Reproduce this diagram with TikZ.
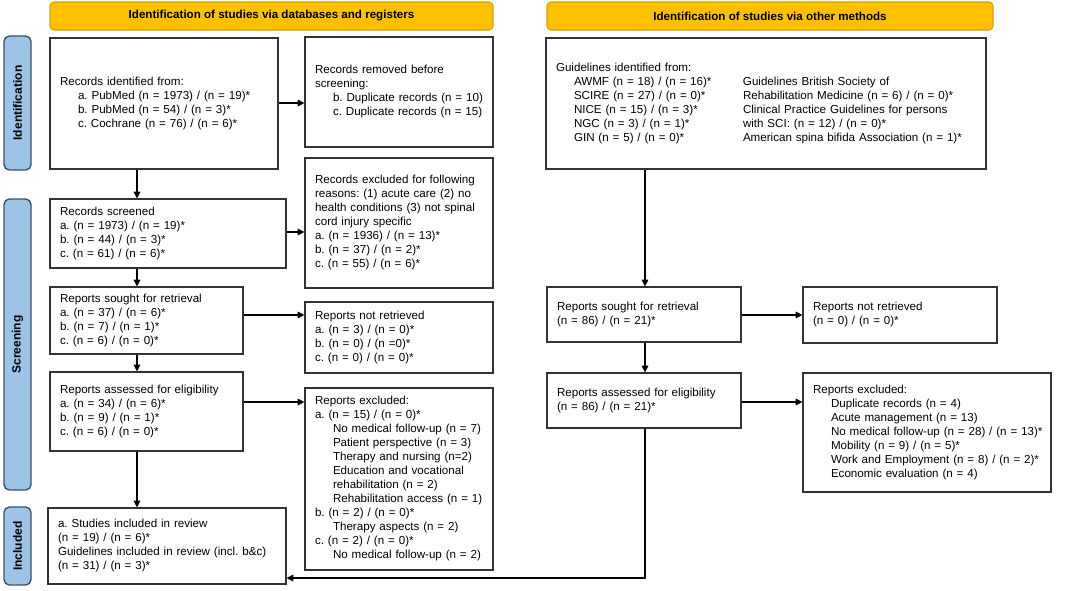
\documentclass[tikz,border=0pt]{standalone}
\usepackage{fontspec}
\setmainfont{Liberation Sans}
\usetikzlibrary{arrows.meta,calc}
\frenchspacing
\definecolor{hdrfill}{HTML}{FFC000}
\definecolor{hdrline}{HTML}{D9A300}
\definecolor{sidefill}{HTML}{9DC3E6}
\definecolor{sideline}{HTML}{3B4F6A}
\definecolor{ink}{HTML}{333333}
\newcommand\ind{\hspace*{13.5pt}}
\newcommand\gcol[1]{\makebox[126.75pt][l]{#1}}
\tikzset{
  pbox/.style={draw=ink, line width=0.9pt, rectangle, inner xsep=7.5pt, inner ysep=0pt, align=left,
    font=\fontsize{8.7}{10.5}\selectfont\frenchspacing},
  hdr/.style={draw=hdrline, fill=hdrfill, line width=0.8pt, rounded corners=3pt, inner sep=0pt,
    font=\fontsize{8.7}{10.5}\selectfont\bfseries},
  side/.style={draw=sideline, fill=sidefill, line width=1pt, rounded corners=4pt, inner sep=0pt,
    rotate=90, font=\fontsize{9}{10.5}\selectfont\bfseries},
  arr/.style={draw=black, line width=0.8pt, -{Triangle[length=5pt,width=5pt]}},
  ln/.style={draw=black, line width=0.8pt}
}
\newcommand\pbox[6]{\node[pbox, minimum width={(#4-#2)*0.75pt}, minimum height={(#5-#3)*0.75pt},
  text width={(#4-#2-20)*0.75pt}] (#1) at ({(#2+#4)/2},{(#3+#5)/2})
  {\begin{tabular}{@{}l@{}}#6\end{tabular}};}
\newcommand\hbx[6]{\node[hdr, minimum width={(#4-#2)*0.75pt}, minimum height={(#5-#3)*0.75pt}]
  (#1) at ({(#2+#4)/2},{(#3+#5)/2}) {#6};}
\newcommand\sbx[6]{\node[side, minimum width={(#5-#3)*0.75pt}, minimum height={(#4-#2)*0.75pt}]
  (#1) at ({(#2+#4)/2},{(#3+#5)/2}) {#6};}
\begin{document}
\begin{tikzpicture}[x=0.75pt,y=-0.75pt]
\useasboundingbox (0,0) rectangle (1067,590);
% headers
\hbx{hL}{50}{2}{493}{30}{Identification of studies via databases and registers}
\hbx{hR}{547}{2}{993}{30}{Identification of studies via other methods}
% side labels
\sbx{sI}{4}{36}{31}{170}{Identification}
\sbx{sS}{4}{199}{31}{490}{Screening}
\sbx{sN}{4}{507}{31}{585}{Included}
% left column
\pbox{b1}{50}{38}{278}{169}{Records identified from:\\
\ind a. PubMed (n = 1973) / (n = 19)*\\
\ind b. PubMed (n = 54) / (n = 3)*\\
\ind c. Cochrane (n = 76) / (n = 6)*}
\pbox{rem}{305}{37}{493}{147}{Records removed before\\ screening:\\
\ind b. Duplicate records (n = 10)\\
\ind c. Duplicate records (n = 15)}
\pbox{exc}{305}{158}{493}{288}{Records excluded for following\\ reasons: (1) acute care (2) no\\ health conditions (3) not spinal\\ cord injury specific\\
a. (n = 1936) / (n = 13)*\\ b. (n = 37) / (n = 2)*\\ c. (n = 55) / (n = 6)*}
\pbox{scr}{50}{199}{286}{268}{Records screened\\ a. (n = 1973) / (n = 19)*\\ b. (n = 44) / (n = 3)*\\ c. (n = 61) / (n = 6)*}
\pbox{sou}{50}{287}{243}{354}{Reports sought for retrieval\\ a. (n = 37) / (n = 6)*\\ b. (n = 7) / (n = 1)*\\ c. (n = 6) / (n = 0)*}
\pbox{nr}{305}{302}{493}{373}{Reports not retrieved\\ a. (n = 3) / (n = 0)*\\ b. (n = 0) / (n =0)*\\ c. (n = 0) / (n = 0)*}
\pbox{ass}{50}{372}{243}{451}{Reports assessed for eligibility\\ a. (n = 34) / (n = 6)*\\ b. (n = 9) / (n = 1)*\\ c. (n = 6) / (n = 0)*}
\pbox{rex}{305}{388}{493}{570}{Reports excluded:\\ a. (n = 15) / (n = 0)*\\
\ind No medical follow-up (n = 7)\\
\ind Patient perspective (n = 3)\\
\ind Therapy and nursing (n=2)\\
\ind Education and vocational\\
\ind rehabilitation (n = 2)\\
\ind Rehabilitation access (n = 1)\\
b. (n = 2) / (n = 0)*\\
\ind Therapy aspects (n = 2)\\
c. (n = 2) / (n = 0)*\\
\ind No medical follow-up (n = 2)}
\pbox{inc}{48}{508}{286}{584}{a. Studies included in review\\ (n = 19) / (n = 6)*\\ Guidelines included in review (incl. b\&c)\\ (n = 31) / (n = 3)*}
% right column
\pbox{gid}{546}{38}{986}{169}{Guidelines identified from:\\
\ind\gcol{AWMF (n = 18) / (n = 16)*}Guidelines British Society of\\
\ind\gcol{SCIRE (n = 27) / (n = 0)*}Rehabilitation Medicine (n = 6) / (n = 0)*\\
\ind\gcol{NICE (n = 15) / (n = 3)*}Clinical Practice Guidelines for persons\\
\ind\gcol{NGC (n = 3) / (n = 1)*}with SCI: (n = 12) / (n = 0)*\\
\ind\gcol{GIN (n = 5) / (n = 0)*}American spina bifida Association (n = 1)*}
\pbox{souR}{547}{287}{741}{342}{Reports sought for retrieval\\ (n = 86) / (n = 21)*}
\pbox{nrR}{803}{287}{997}{343}{Reports not retrieved\\ (n = 0) / (n = 0)*}
\pbox{assR}{547}{373}{741}{428}{Reports assessed for eligibility\\ (n = 86) / (n = 21)*}
\pbox{rexR}{803}{373}{1051}{492}{Reports excluded:\\
\ind Duplicate records (n = 4)\\
\ind Acute management (n = 13)\\
\ind No medical follow-up (n = 28) / (n = 13)*\\
\ind Mobility (n = 9) / (n = 5)*\\
\ind Work and Employment (n = 8) / (n = 2)*\\
\ind Economic evaluation (n = 4)}
% helper coordinates
\coordinate (xL) at (137,0);
\coordinate (xR) at (645,0);
\coordinate (y1) at (0,103);
\coordinate (y2) at (0,232);
\coordinate (y3) at (0,315);
\coordinate (y4) at (0,402);
\coordinate (yb) at (0,578);
% connectors left
\draw[arr] (b1.east |- y1) -- (rem.west |- y1);
\draw[arr] (b1.south -| xL) -- (scr.north -| xL);
\draw[arr] (scr.east |- y2) -- (exc.west |- y2);
\draw[arr] (scr.south -| xL) -- (sou.north -| xL);
\draw[arr] (sou.east |- y3) -- (nr.west |- y3);
\draw[arr] (sou.south -| xL) -- (ass.north -| xL);
\draw[arr] (ass.east |- y4) -- (rex.west |- y4);
\draw[arr] (ass.south -| xL) -- (inc.north -| xL);
% connectors right
\draw[arr] (gid.south -| xR) -- (souR.north -| xR);
\draw[arr] (souR.east |- y3) -- (nrR.west |- y3);
\draw[arr] (souR.south -| xR) -- (assR.north -| xR);
\draw[arr] (assR.east |- y4) -- (rexR.west |- y4);
\draw[arr] (assR.south -| xR) -- (xR |- yb) -- (inc.east |- yb);
\end{tikzpicture}
\end{document}
